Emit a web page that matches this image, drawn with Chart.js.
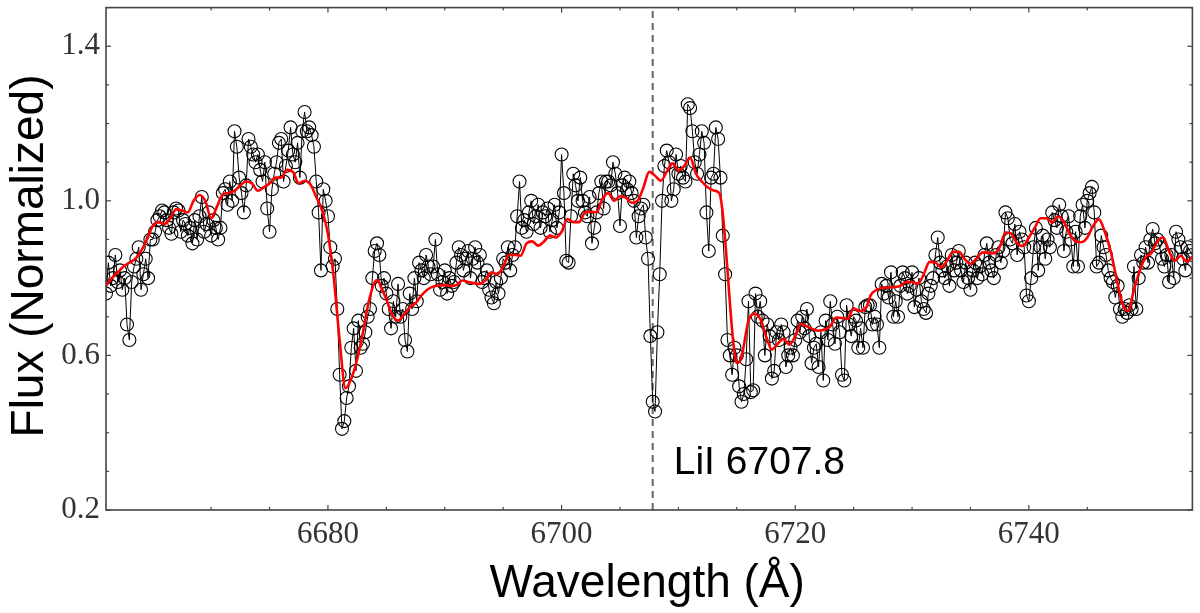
<!DOCTYPE html>
<html>
<head>
<meta charset="utf-8">
<script src="https://cdn.jsdelivr.net/npm/chart.js@4.4.0/dist/chart.umd.min.js"></script>
<style>
  html, body { margin: 0; padding: 0; background: #fff; }
  #wrap { width: 1200px; height: 613px; position: relative; }
</style>
</head>
<body>
<div id="wrap"><canvas id="c"></canvas></div>
<script>
// ---------------- DATA ----------------
const obsWave = [
6661,6661.2,6661.4,6661.6,6661.8, 6662,6662.2,6662.4,6662.6,6662.8, 6663,6663.2,6663.4,6663.6,6663.8,
6664,6664.2,6664.4,6664.6,6664.8, 6665,6665.2,6665.4,6665.6,6665.8, 6666,6666.2,6666.4,6666.6,6666.8,
6667,6667.2,6667.4,6667.6,6667.8, 6668,6668.2,6668.4,6668.6,6668.8, 6669,6669.2,6669.4,6669.6,6669.8,
6670,6670.2,6670.4,6670.6,6670.8, 6671,6671.2,6671.4,6671.6,6671.8, 6672,6672.2,6672.4,6672.6,6672.8,
6673,6673.2,6673.4,6673.6,6673.8, 6674,6674.2,6674.4,6674.6,6674.8, 6675,6675.2,6675.4,6675.6,6675.8,
6676,6676.2,6676.4,6676.6,6676.8, 6677,6677.2,6677.4,6677.6,6677.8, 6678,6678.2,6678.4,6678.6,6678.8,
6679,6679.2,6679.4,6679.6,6679.8, 6680,6680.2,6680.4,6680.6,6680.8, 6681,6681.2,6681.4,6681.6,6681.8,
6682,6682.2,6682.4,6682.6,6682.8, 6683,6683.2,6683.4,6683.6,6683.8, 6684,6684.2,6684.4,6684.6,6684.8,
6685,6685.2,6685.4,6685.6,6685.8, 6686,6686.2,6686.4,6686.6,6686.8, 6687,6687.2,6687.4,6687.6,6687.8,
6688,6688.2,6688.4,6688.6,6688.8, 6689,6689.2,6689.4,6689.6,6689.8, 6690,6690.2,6690.4,6690.6,6690.8,
6691,6691.2,6691.4,6691.6,6691.8, 6692,6692.2,6692.4,6692.6,6692.8, 6693,6693.2,6693.4,6693.6,6693.8,
6694,6694.2,6694.4,6694.6,6694.8, 6695,6695.2,6695.4,6695.6,6695.8, 6696,6696.2,6696.4,6696.6,6696.8,
6697,6697.2,6697.4,6697.6,6697.8, 6698,6698.2,6698.4,6698.6,6698.8, 6699,6699.2,6699.4,6699.6,6699.8,
6700,6700.2,6700.4,6700.6,6700.8, 6701,6701.2,6701.4,6701.6,6701.8, 6702,6702.2,6702.4,6702.6,6702.8,
6703,6703.2,6703.4,6703.6,6703.8, 6704,6704.2,6704.4,6704.6,6704.8, 6705,6705.2,6705.4,6705.6,6705.8,
6706,6706.2,6706.4,6706.6,6706.8, 6707,6707.2,6707.4,6707.6,6707.8, 6708,6708.2,6708.4,6708.6,6708.8,
6709,6709.2,6709.4,6709.6,6709.8, 6710,6710.2,6710.4,6710.6,6710.8, 6711,6711.2,6711.4,6711.6,6711.8,
6712,6712.2,6712.4,6712.6,6712.8, 6713,6713.2,6713.4,6713.6,6713.8, 6714,6714.2,6714.4,6714.6,6714.8,
6715,6715.2,6715.4,6715.6,6715.8, 6716,6716.2,6716.4,6716.6,6716.8, 6717,6717.2,6717.4,6717.6,6717.8,
6718,6718.2,6718.4,6718.6,6718.8, 6719,6719.2,6719.4,6719.6,6719.8, 6720,6720.2,6720.4,6720.6,6720.8,
6721,6721.2,6721.4,6721.6,6721.8, 6722,6722.2,6722.4,6722.6,6722.8, 6723,6723.2,6723.4,6723.6,6723.8,
6724,6724.2,6724.4,6724.6,6724.8, 6725,6725.2,6725.4,6725.6,6725.8, 6726,6726.2,6726.4,6726.6,6726.8,
6727,6727.2,6727.4,6727.6,6727.8, 6728,6728.2,6728.4,6728.6,6728.8, 6729,6729.2,6729.4,6729.6,6729.8,
6730,6730.2,6730.4,6730.6,6730.8, 6731,6731.2,6731.4,6731.6,6731.8, 6732,6732.2,6732.4,6732.6,6732.8,
6733,6733.2,6733.4,6733.6,6733.8, 6734,6734.2,6734.4,6734.6,6734.8, 6735,6735.2,6735.4,6735.6,6735.8,
6736,6736.2,6736.4,6736.6,6736.8, 6737,6737.2,6737.4,6737.6,6737.8, 6738,6738.2,6738.4,6738.6,6738.8,
6739,6739.2,6739.4,6739.6,6739.8, 6740,6740.2,6740.4,6740.6,6740.8, 6741,6741.2,6741.4,6741.6,6741.8,
6742,6742.2,6742.4,6742.6,6742.8, 6743,6743.2,6743.4,6743.6,6743.8, 6744,6744.2,6744.4,6744.6,6744.8,
6745,6745.2,6745.4,6745.6,6745.8, 6746,6746.2,6746.4,6746.6,6746.8, 6747,6747.2,6747.4,6747.6,6747.8,
6748,6748.2,6748.4,6748.6,6748.8, 6749,6749.2,6749.4,6749.6,6749.8, 6750,6750.2,6750.4,6750.6,6750.8,
6751,6751.2,6751.4,6751.6,6751.8, 6752,6752.2,6752.4,6752.6,6752.8, 6753,6753.2,6753.4,6753.6,6753.8,
6754
];
const obsFlux = [
0.76,0.84,0.78,0.80,0.86, 0.79,0.82,0.77,0.80,0.68, 0.64,0.79,0.83,0.85,0.88,
0.77,0.81,0.85,0.80,0.90, 0.90,0.92,0.95,0.96,0.975, 0.97,0.95,0.93,0.915,0.97,
0.98,0.975,0.92,0.95,0.94, 0.91,0.93,0.89,0.95,0.90, 0.96,1.01,0.92,0.94,0.97,
0.91,0.95,0.93,0.90,0.93, 1.02,1.03,0.99,1.05,1.00, 1.18,1.14,1.06,1.02,0.97,
1.04,1.16,1.14,1.12,1.10, 1.12,1.08,1.05,1.10,0.98, 0.92,1.03,1.07,1.10,1.15,
1.16,1.05,1.09,1.13,1.19, 1.12,1.10,1.15,1.06,1.18, 1.23,1.18,1.19,1.17,1.14,
1.05,0.97,0.82,1.03,1.00, 0.96,0.88,0.83,0.85,0.72, 0.55,0.41,0.43,0.49,0.52,
0.62,0.67,0.56,0.69,0.62, 0.63,0.66,0.70,0.72,0.80, 0.87,0.89,0.86,0.78,0.80,
0.76,0.72,0.67,0.74,0.70, 0.785,0.70,0.72,0.64,0.61, 0.76,0.72,0.80,0.74,0.84,
0.82,0.80,0.86,0.83,0.81, 0.83,0.90,0.81,0.77,0.79, 0.82,0.76,0.80,0.78,0.79,
0.84,0.88,0.86,0.82,0.85, 0.87,0.80,0.85,0.88,0.84, 0.86,0.79,0.80,0.82,0.77,
0.75,0.735,0.79,0.76,0.80, 0.85,0.84,0.88,0.82,0.86, 0.88,0.96,1.05,0.93,0.95,
0.92,0.97,1.00,0.94,0.96, 0.99,0.93,0.97,0.96,0.98, 0.92,0.95,0.99,0.93,0.97,
1.12,1.02,0.845,0.84,0.96, 1.07,1.04,1.00,1.06,1.00, 0.97,0.96,1.01,0.89,0.93,
0.97,1.02,1.05,0.98,1.05, 1.05,1.04,1.10,1.07,1.02, 0.935,1.04,1.06,1.03,1.05,
1.02,1.00,0.905,0.96,0.98, 0.99,0.905,0.85,0.65,0.48, 0.455,0.66,0.81,1.00,1.09,
1.13,1.10,1.00,1.03,1.12, 1.07,1.09,1.06,1.05,1.25, 1.24,1.18,1.10,1.07,1.12,
1.18,1.15,0.97,0.87,1.06, 1.07,1.19,1.16,1.06,0.91, 0.81,0.64,0.60,0.55,0.62,
0.60,0.52,0.48,0.50,0.59, 0.74,0.505,0.51,0.76,0.70, 0.74,0.69,0.60,0.68,0.65,
0.54,0.56,0.66,0.64,0.68, 0.66,0.57,0.60,0.62,0.60, 0.64,0.69,0.66,0.70,0.67,
0.72,0.65,0.58,0.62,0.63, 0.57,0.66,0.535,0.69,0.64, 0.74,0.68,0.63,0.70,0.66,
0.55,0.535,0.73,0.68,0.65, 0.70,0.69,0.62,0.67,0.62, 0.725,0.73,0.73,0.68,0.70,
0.68,0.62,0.785,0.76,0.78, 0.75,0.815,0.70,0.74,0.70, 0.78,0.815,0.80,0.76,0.78,
0.815,0.725,0.77,0.80,0.74, 0.72,0.71,0.76,0.78,0.80, 0.86,0.905,0.84,0.82,0.80,
0.83,0.78,0.86,0.82,0.84, 0.87,0.82,0.79,0.84,0.80, 0.77,0.82,0.84,0.80,0.83,
0.81,0.86,0.89,0.84,0.82, 0.80,0.86,0.88,0.84,0.87, 0.97,0.955,0.90,0.89,0.94,
0.86,0.92,0.90,0.88,0.755, 0.74,0.80,0.88,0.93,0.82, 0.88,0.91,0.85,0.90,0.88,
0.97,0.95,0.93,0.99,0.96, 0.87,0.92,0.96,0.90,0.83, 0.92,0.83,0.96,0.99,0.93,
1.00,1.02,1.036,0.97,0.83, 0.84,0.91,0.88,0.86,0.82, 0.80,0.79,0.75,0.78,0.72,
0.70,0.72,0.71,0.73,0.72, 0.83,0.72,0.80,0.86,0.84, 0.88,0.84,0.90,0.927,0.89,
0.90,0.88,0.85,0.83,0.86, 0.79,0.86,0.80,0.92,0.90, 0.88,0.85,0.82,0.88,0.87,
0.86
];
const modelWave = [
6661,6661.5,6662,6662.5,6663,6663.5,6664,6664.5,6665,6665.5,6666,6666.5,6667,6667.5,6668,6668.5,
6669,6669.5,6670,6670.5,6671,6671.5,6672,6672.5,6673,6673.5,6674,6674.5,6675,6675.5,6676,6676.5,
6677,6677.5,6678,6678.5,6679,6679.5,6680,6680.5,6681,6681.5,6682,6682.5,6683,6683.5,6684,6684.25,
6684.5,6685,6685.5,6686,6686.5,6687,6687.5,6688,6688.5,6689,6689.5,6690,6690.5,6691,6691.5,6692,
6692.5,6693,6693.5,6694,6694.5,6695,6695.5,6696,6696.5,6697,6697.5,6698,6698.5,6699,6699.5,6700,
6700.5,6701,6701.5,6702,6702.5,6703,6703.5,6704,6704.5,6705,6705.5,6706,6706.5,6707,6707.5,6708,
6708.5,6709,6709.5,6710,6710.5,6711,6711.5,6712,6712.5,6713,6713.5,6713.75,6714,6714.25,6714.5,6714.75,
6715,6715.25,6715.5,6716,6716.5,6717,6717.5,6718,6718.5,6719,6719.5,6720,6720.5,6721,6721.5,6722,
6722.5,6723,6723.5,6724,6724.5,6725,6725.5,6726,6726.5,6727,6727.5,6728,6728.5,6729,6729.5,6730,
6730.5,6731,6731.5,6732,6732.5,6733,6733.5,6734,6734.5,6735,6735.5,6736,6736.5,6737,6737.5,6738,
6738.5,6739,6739.5,6740,6740.5,6741,6741.5,6742,6742.5,6743,6743.5,6744,6744.5,6745,6745.5,6746,
6746.5,6747,6747.5,6748,6748.5,6749,6749.5,6750,6750.5,6751,6751.5,6752,6752.5,6753,6753.5,6754
];
const modelFlux = [
0.78,0.80,0.815,0.83,0.84,0.85,0.87,0.90,0.935,0.945,0.94,0.955,0.978,0.975,0.97,1.00,
1.015,1.00,0.955,0.985,1.017,1.02,1.026,1.04,1.05,1.045,1.026,1.035,1.045,1.06,1.06,1.08,
1.075,1.045,1.052,1.042,1.01,0.975,0.914,0.80,0.64,0.515,0.54,0.59,0.66,0.74,0.79,0.795,
0.78,0.745,0.705,0.69,0.705,0.725,0.735,0.755,0.77,0.778,0.781,0.782,0.78,0.782,0.794,0.79,
0.787,0.785,0.795,0.815,0.81,0.83,0.86,0.86,0.858,0.89,0.895,0.884,0.895,0.91,0.905,0.92,
0.953,0.945,0.945,0.97,0.972,0.97,1.005,1.02,1.00,1.012,1.008,0.995,1.00,1.034,1.075,1.065,
1.052,1.075,1.097,1.078,1.09,1.112,1.07,1.05,1.035,1.027,1.02,0.98,0.90,0.80,0.70,0.62,
0.58,0.585,0.61,0.69,0.708,0.695,0.65,0.615,0.63,0.643,0.628,0.65,0.682,0.675,0.668,0.664,
0.667,0.675,0.698,0.697,0.695,0.722,0.715,0.72,0.758,0.77,0.775,0.776,0.777,0.78,0.79,0.79,
0.785,0.81,0.842,0.84,0.828,0.845,0.868,0.868,0.85,0.837,0.85,0.866,0.866,0.864,0.88,0.918,
0.915,0.89,0.883,0.905,0.93,0.955,0.955,0.944,0.96,0.945,0.914,0.895,0.893,0.905,0.935,0.952,
0.92,0.87,0.80,0.735,0.715,0.77,0.82,0.854,0.865,0.895,0.905,0.87,0.845,0.858,0.843,0.855
];
const lineWave = 6707.8;
const lineLabel = 'LiI 6707.8';
const xMin = 6661, xMax = 6754;
const yMin = 0.2, yMax = 1.5;
const xTickLabels = [6680, 6700, 6720, 6740];
const yTickLabels = [0.2, 0.6, 1.0, 1.4];

// ---------------- CHART ----------------
const obsPoints = obsWave.map((w, i) => ({ x: w, y: obsFlux[i] }));
const modelPoints = modelWave.map((w, i) => ({ x: w, y: modelFlux[i] }));
const linePoints = [{ x: lineWave, y: yMin }, { x: lineWave, y: yMax }];

const near = (a, b) => Math.abs(a - b) < 1e-6;

const decor = {
  id: 'decor',
  afterDatasetsDraw(chart) {
    const { ctx, scales: { x, y } } = chart;
    ctx.save();
    ctx.fillStyle = '#000';
    ctx.font = '39px "Liberation Sans", Arial, sans-serif';
    ctx.textAlign = 'left';
    ctx.textBaseline = 'alphabetic';
    ctx.fillText(lineLabel, x.getPixelForValue(6709.6), y.getPixelForValue(0.293));
    ctx.restore();
  },
  afterDraw(chart) {
    const { ctx, chartArea: a, scales: { x, y } } = chart;
    ctx.save();
    ctx.strokeStyle = '#444';
    ctx.lineWidth = 1.2;
    const seg = (x1, y1, x2, y2) => { ctx.beginPath(); ctx.moveTo(x1, y1); ctx.lineTo(x2, y2); ctx.stroke(); };
    x.ticks.forEach(t => {
      const v = t.value;
      if (!near(v / 5, Math.round(v / 5))) return;
      const major = xTickLabels.some(m => near(m, v));
      const L = major ? 5 : 3;
      const p = x.getPixelForValue(v);
      seg(p, a.bottom, p, a.bottom - L);
      seg(p, a.top, p, a.top + L);
    });
    y.ticks.forEach(t => {
      const v = t.value;
      const major = yTickLabels.some(m => near(m, v));
      const L = major ? 5 : 3;
      const p = y.getPixelForValue(v);
      seg(a.left, p, a.left + L, p);
      seg(a.right, p, a.right - L, p);
    });
    ctx.lineWidth = 1.6;
    ctx.strokeRect(a.left, a.top, a.right - a.left, a.bottom - a.top);

    // axis titles
    ctx.fillStyle = '#000';
    ctx.font = '46px "Liberation Sans", Arial, sans-serif';
    ctx.textAlign = 'center';
    ctx.textBaseline = 'alphabetic';
    ctx.fillText('Wavelength (Å)', (a.left + a.right) / 2 - 2, 597);
    ctx.save();
    ctx.translate(43, 256);
    ctx.rotate(-Math.PI / 2);
    ctx.fillText('Flux (Normalized)', 0, 0);
    ctx.restore();
    ctx.restore();
  }
};

new Chart(document.getElementById('c'), {
  type: 'line',
  data: {
    datasets: [
      {
        label: 'model',
        data: modelPoints,
        borderColor: '#ff0000',
        borderWidth: 2.6,
        pointRadius: 0,
        cubicInterpolationMode: 'monotone',
        fill: false,
        order: 0
      },
      {
        label: 'observed',
        data: obsPoints,
        borderColor: '#000',
        borderWidth: 1,
        pointRadius: 6.5,
        pointBorderWidth: 1.1,
        pointBorderColor: '#000',
        pointBackgroundColor: 'rgba(0,0,0,0)',
        tension: 0,
        fill: false,
        order: 1
      },
      {
        label: 'line',
        data: linePoints,
        borderColor: '#666',
        borderWidth: 2,
        borderDash: [7, 5],
        pointRadius: 0,
        fill: false,
        order: 2
      }
    ]
  },
  options: {
    responsive: true,
    maintainAspectRatio: false,
    animation: false,
    layout: { padding: { left: 0, right: 5, top: 6, bottom: 0 } },
    plugins: { legend: { display: false }, tooltip: { enabled: false } },
    scales: {
      x: {
        type: 'linear',
        min: xMin, max: xMax,
        border: { display: false },
        grid: { display: false, drawTicks: false },
        afterFit: s => { s.height = 103; s.paddingLeft = 0; s.paddingRight = 0; },
        ticks: {
          stepSize: 5,
          autoSkip: false,
          maxRotation: 0,
          padding: 6,
          color: '#333',
          font: { family: '"Liberation Serif", "Times New Roman", serif', size: 31 },
          callback: v => xTickLabels.some(m => near(m, v)) ? String(Math.round(v)) : ''
        }
      },
      y: {
        type: 'linear',
        min: yMin, max: yMax,
        border: { display: false },
        grid: { display: false, drawTicks: false },
        afterFit: s => { s.width = 106; s.paddingTop = 0; s.paddingBottom = 0; },
        ticks: {
          stepSize: 0.1,
          autoSkip: false,
          padding: 6,
          color: '#333',
          font: { family: '"Liberation Serif", "Times New Roman", serif', size: 31 },
          callback: v => yTickLabels.some(m => near(m, v)) ? v.toFixed(1) : ''
        }
      }
    }
  },
  plugins: [decor]
});
</script>
</body>
</html>
